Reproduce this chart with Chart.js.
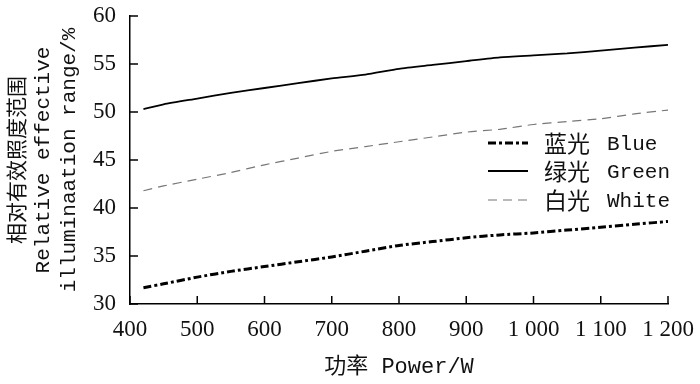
<!DOCTYPE html>
<html>
<head>
<meta charset="utf-8">
<script src="https://cdn.jsdelivr.net/npm/chart.js@4/dist/chart.umd.min.js"></script>
<style>
html,body{margin:0;padding:0;background:#fff;}
#wrap{width:700px;height:384px;}
</style>
</head>
<body>
<div id="wrap"><canvas id="c" width="700" height="384"></canvas></div>
<script>
const power = [420, 450, 500, 550, 600, 650, 700, 750, 800, 850, 900, 950, 1000, 1050, 1100, 1150, 1200];
const blue  = [31.7, 32.1, 32.8, 33.4, 33.9, 34.4, 34.9, 35.5, 36.1, 36.5, 36.9, 37.2, 37.4, 37.7, 38.0, 38.3, 38.6];
const green = [50.3, 50.8, 51.4, 52.0, 52.5, 53.0, 53.5, 53.9, 54.5, 54.9, 55.3, 55.7, 55.9, 56.1, 56.4, 56.7, 57.0];
const white = [41.8, 42.3, 43.0, 43.7, 44.5, 45.2, 45.9, 46.4, 46.9, 47.4, 47.9, 48.2, 48.7, 49.0, 49.3, 49.8, 50.2];
const seriesCn = ['蓝光', '绿光', '白光'];
const seriesEn = ['Blue', 'Green', 'White'];
const xTickLabels = ['400','500','600','700','800','900','1 000','1 100','1 200'];
const yTickLabels = ['30','35','40','45','50','55','60'];
const xTitle = '功率 Power/W';
const yTitle = ['相对有效照度范围', 'Relative effective', 'illuminaation range/%'];

const toPts = (ys) => power.map((x, i) => ({x: x, y: ys[i]}));
const monoFont = "'Liberation Mono', 'Noto Sans CJK SC', monospace";
const cjkFont = "'Noto Sans CJK SC', sans-serif";
const serifFont = "'Liberation Serif', 'Times New Roman', serif";

const styles = [
  {color:'#000', width:3, dash:[8,3,3,3]},
  {color:'#000', width:1.8, dash:[]},
  {color:'#777', width:1.2, dash:[9,6]}
];

const legendPlugin = {
  id: 'customLegend',
  afterDraw(chart) {
    const ctx = chart.ctx;
    const rows = [143, 171, 200];
    chart.data.datasets.forEach((ds, i) => {
      const y = rows[i];
      ctx.save();
      ctx.strokeStyle = ds.borderColor;
      ctx.lineWidth = ds.borderWidth;
      ctx.setLineDash(ds.borderDash || []);
      ctx.beginPath();
      ctx.moveTo(488, y);
      ctx.lineTo(528, y);
      ctx.stroke();
      ctx.setLineDash([]);
      ctx.fillStyle = '#111';
      ctx.textBaseline = 'middle';
      ctx.textAlign = 'left';
      ctx.font = "23px " + cjkFont;
      ctx.fillText(seriesCn[i], 544, y);
      ctx.font = "21px " + monoFont;
      ctx.fillText(seriesEn[i], 607, y + 1);
      ctx.restore();
    });
  }
};

const tickPlugin = {
  id: 'inwardTicks',
  afterDraw(chart) {
    const ctx = chart.ctx;
    const xs = chart.scales.x, ys = chart.scales.y;
    ctx.save();
    ctx.strokeStyle = '#000';
    ctx.lineWidth = 1.5;
    xs.ticks.forEach(t => {
      const px = xs.getPixelForValue(t.value);
      ctx.beginPath();
      ctx.moveTo(px, ys.bottom);
      ctx.lineTo(px, ys.bottom - 8);
      ctx.stroke();
    });
    ys.ticks.forEach(t => {
      const py = ys.getPixelForValue(t.value);
      ctx.beginPath();
      ctx.moveTo(xs.left, py);
      ctx.lineTo(xs.left + 8, py);
      ctx.stroke();
    });
    ctx.restore();
  }
};

new Chart(document.getElementById('c'), {
  type: 'line',
  data: {
    datasets: [blue, green, white].map((d, i) => ({
      label: seriesCn[i] + ' ' + seriesEn[i],
      data: toPts(d),
      borderColor: styles[i].color,
      borderWidth: styles[i].width,
      borderDash: styles[i].dash,
      pointRadius: 0,
      tension: 0.2,
      fill: false
    }))
  },
  options: {
    responsive: false,
    animation: false,
    devicePixelRatio: 1,
    layout: {padding: {top: 16, right: 32, left: 0, bottom: 0}},
    plugins: {legend: {display: false}, tooltip: {enabled: false}},
    scales: {
      x: {
        type: 'linear', min: 400, max: 1200,
        grid: {display: false, drawTicks: true, tickLength: 12},
        border: {display: true, color: '#000', width: 1.5},
        ticks: {
          stepSize: 100, padding: 0, color: '#111',
          font: {family: serifFont, size: 23},
          maxRotation: 0, autoSkip: false,
          callback: (v) => xTickLabels[Math.round((v - 400) / 100)]
        },
        title: {display: true, text: xTitle, color: '#111', font: {family: monoFont, size: 22}, padding: {top: 4}},
        afterFit(s) { s.height = 80; }
      },
      y: {
        min: 30, max: 60,
        grid: {display: false, drawTicks: true, tickLength: 14},
        border: {display: true, color: '#000', width: 1.5},
        ticks: {
          stepSize: 5, padding: 0, color: '#111',
          font: {family: serifFont, size: 23},
          callback: (v) => yTickLabels[Math.round((v - 30) / 5)]
        },
        title: {display: true, text: yTitle, color: '#111', font: {family: monoFont, size: 21, lineHeight: 1.2}, padding: {top: 6, bottom: 0}},
        afterFit(s) { s.width = 130; }
      }
    }
  },
  plugins: [tickPlugin, legendPlugin]
});
</script>
</body>
</html>
